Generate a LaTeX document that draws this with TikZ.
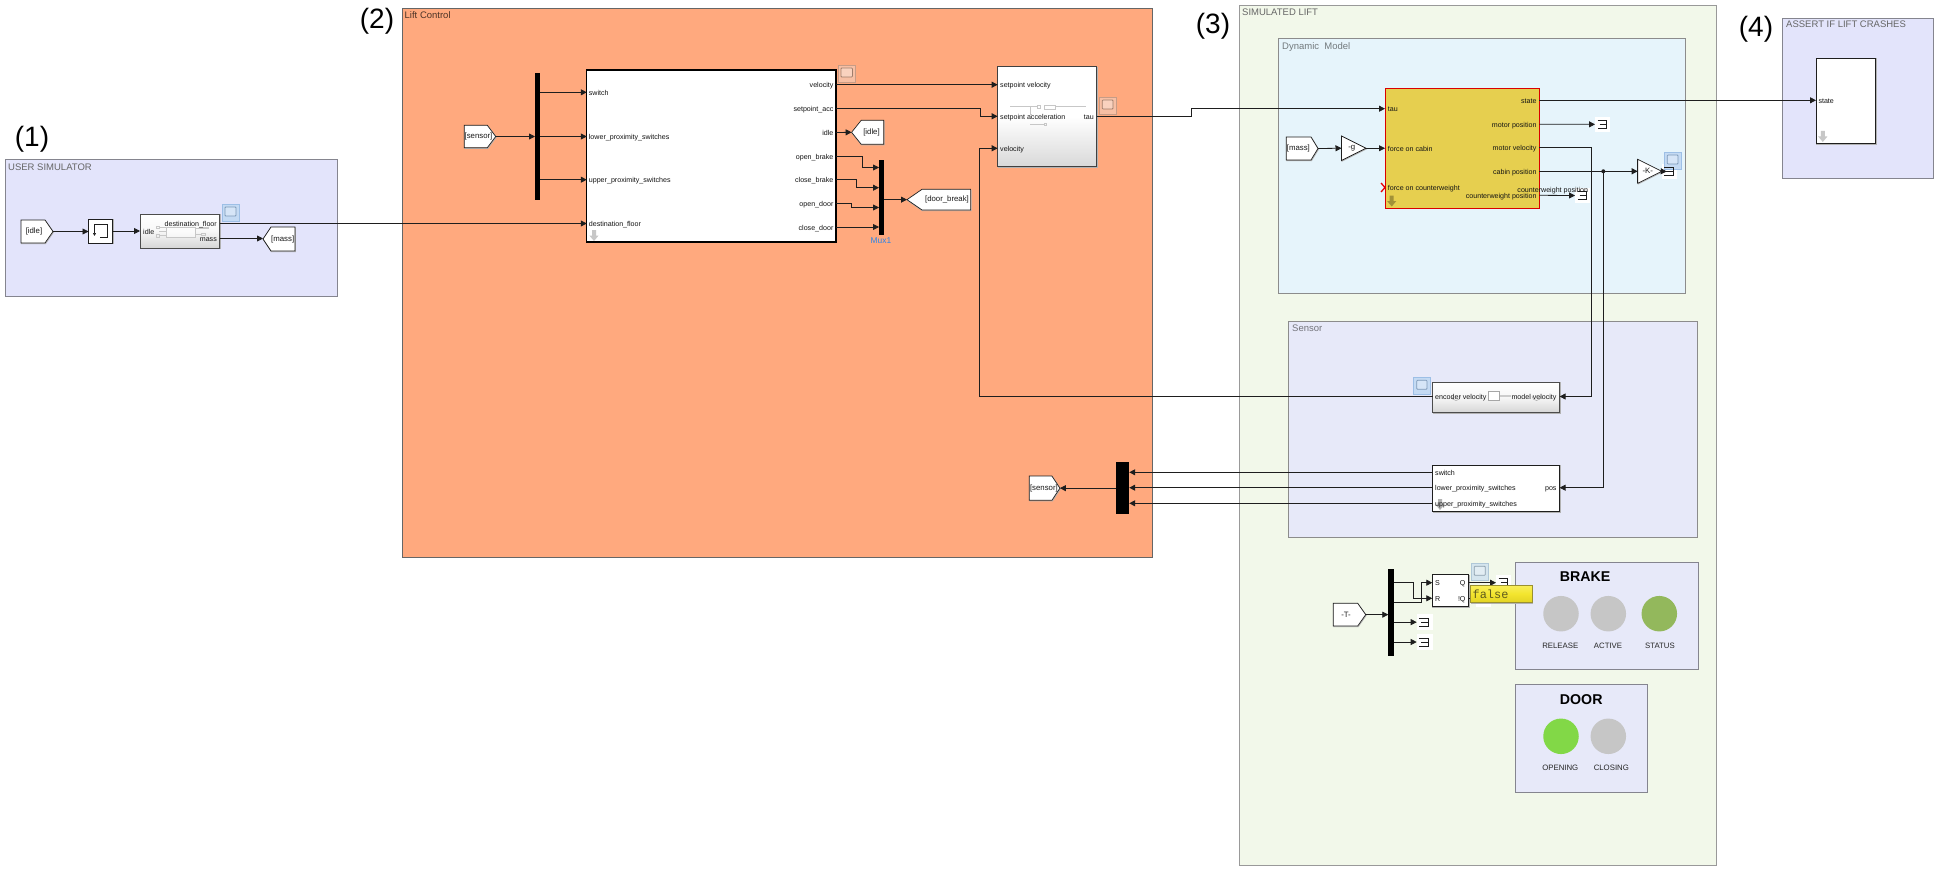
\documentclass[tikz,border=0pt]{standalone}
\usepackage{fontspec}
\setmainfont{Liberation Sans}
\newfontfamily\tipfont{Liberation Mono}
\usetikzlibrary{arrows.meta,calc}
\definecolor{cUser}{HTML}{E3E4FB}
\definecolor{cLift}{HTML}{FFA97E}
\definecolor{cSim}{HTML}{F2F8EA}
\definecolor{cDyn}{HTML}{E6F4FB}
\definecolor{cSens}{HTML}{E7E9F9}
\definecolor{cYel}{HTML}{E6CF4F}
\definecolor{cEdge}{HTML}{1E1E1E}
\definecolor{cPanel}{HTML}{85858F}
\definecolor{cGrayLamp}{HTML}{C6C6C6}
\definecolor{cScF}{HTML}{C4DAF3}
\definecolor{cScD}{HTML}{9DBFE6}
\definecolor{cScOF}{HTML}{F7BFA4}
\definecolor{cScOD}{HTML}{C79C86}
\definecolor{cScPF}{HTML}{D5E5EE}
\definecolor{cScPD}{HTML}{B0C8D8}
\definecolor{cTipT}{HTML}{F8EE5A}
\definecolor{cTipM}{HTML}{F3E52E}
\definecolor{cTipB}{HTML}{E2D324}
\definecolor{cTipD}{HTML}{9A9030}
\definecolor{cTipX}{HTML}{5E5A1E}
\definecolor{cMux}{HTML}{2E86E6}
\tikzset{
  x=1pt,y=-1pt,
  panel/.style={draw=cPanel,line width=1pt},
  shadowed/.style={preaction={draw=black!30,line width=0.9pt,transform canvas={shift={(0.5pt,-0.7pt)}}}},
  blk/.style={draw=cEdge,line width=0.7pt,fill=white,shadowed},
  gradblk/.style={draw=black!70,line width=0.8pt,shadowed,top color=white,bottom color=black!16,middle color=black!3},
  wire/.style={draw=cEdge,line width=0.8pt,-{Triangle[length=6pt,width=6pt]}},
  txt/.style={font=\fontsize{7.1}{8}\selectfont,inner sep=0pt,text height=7.1pt,text depth=1pt,text=black!92},
  tagt/.style={font=\fontsize{7.8}{9}\selectfont,inner sep=0pt,text=black!90},
  ptitle/.style={font=\fontsize{9.5}{11}\selectfont,inner sep=0pt,anchor=west},
  numt/.style={font=\fontsize{28}{30}\selectfont,inner sep=0pt,text=black},
  lampt/.style={font=\fontsize{7.8}{9}\selectfont,inner sep=0pt,text=black!85},
  lamptitle/.style={font=\bfseries\fontsize{14.2}{16}\selectfont,inner sep=0pt,anchor=west},
  faint/.style={draw=black!22,line width=0.5pt},
  bar/.style={fill=black},
  lamp/.style={circle,inner sep=0pt,minimum size=35.5pt},
  termsym/.style={line width=0.6pt,draw=cEdge},
}
\newcommand{\bx}[6][]{%
  \pgfmathsetmacro\rsW{#5-#3}\pgfmathsetmacro\rsH{#6-#4}%
  \pgfmathsetmacro\rsX{(#3+#5)/2}\pgfmathsetmacro\rsY{(#4+#6)/2}%
  \node[minimum width=\rsW pt,minimum height=\rsH pt,inner sep=0pt,outer sep=0pt,#1] (#2) at (\rsX,\rsY) {};}
\newcommand{\lblL}[4]{\node[txt,anchor=west] (#1) at (#2,#3) {#4};}
\newcommand{\lblR}[4]{\node[txt,anchor=east] (#1) at (#2,#3) {#4};}
\newcommand{\tagR}[9]{\bx{#1}{#2}{#3}{#4}{#5}%
  \draw[blk] (#1.north west) -- ($(#1.north east)+(-#6,0)$) -- (#1.east) -- ($(#1.south east)+(-#6,0)$) -- (#1.south west) -- cycle;
  \node[tagt] (#1-t) at (#8,#9) {#7};}
\newcommand{\tagL}[9]{\bx{#1}{#2}{#3}{#4}{#5}%
  \draw[blk] (#1.north east) -- ($(#1.north west)+(#6,0)$) -- (#1.west) -- ($(#1.south west)+(#6,0)$) -- (#1.south east) -- cycle;
  \node[tagt] (#1-t) at (#8,#9) {#7};}
\newcommand{\tri}[6]{\bx{#1}{#2}{#3}{#4}{#5}%
  \draw[blk] (#1.north west) -- (#1.east) -- (#1.south west) -- cycle;
  \node[tagt] (#1-t) at ($(#1.center)+(-2,0)$) {#6};}
\newcommand{\termsymbol}[1]{%
  \draw[termsym] ($(#1.west)+(2.5,-4.2)$) -- ($(#1.west)+(11.5,-4.2)$) -- ($(#1.west)+(11.5,4.2)$) -- ($(#1.west)+(2.5,4.2)$)
     ($(#1.west)+(4.5,0)$) -- ($(#1.west)+(11.5,0)$);}
\newcommand{\term}[5]{\bx[fill=white]{#1}{#2}{#3}{#4}{#5}\termsymbol{#1}}
\newcommand{\scopeic}[7]{\bx[fill=#6,draw=#7,line width=0.8pt]{#1}{#2}{#3}{#4}{#5}%
  \draw[draw=#7!80!black,line width=0.8pt,fill=#6!70!white,rounded corners=0.8pt] ($(#1.north west)+(3,3)$) rectangle ($(#1.north east)+(-3,12)$);}
\newcommand{\downar}[4]{%
  \node[inner sep=0pt,minimum size=1pt] (#1) at (#2,#3) {};
  \fill[#4] ($(#1)+(-2,0)$) -- ($(#1)+(2,0)$) -- ($(#1)+(2,5.5)$) -- ($(#1)+(4.6,5.5)$) -- ($(#1)+(0,11)$) -- ($(#1)+(-4.6,5.5)$) -- ($(#1)+(-2,5.5)$) -- cycle;}
\begin{document}
\begin{tikzpicture}
\useasboundingbox (0,0) rectangle (1944,872);
\fill[white] (0,0) rectangle (1944,872);
% ---- panels
\bx[panel,fill=cUser]{pUser}{5}{160}{337}{296.5}
\bx[panel,draw=black!60,fill=cLift]{pLift}{402}{8.5}{1152.6}{557.3}
\bx[panel,draw=black!40,fill=cSim]{pSim}{1239}{5.7}{1716.4}{865.7}
\bx[panel,draw=black!45,fill=cDyn]{pDyn}{1278.6}{39}{1685.4}{293.3}
\bx[panel,draw=black!45,fill=cSens]{pSens}{1288.7}{321.5}{1697.8}{537}
\bx[panel,fill=cUser]{pAss}{1782.4}{18.3}{1933.3}{178.3}
\bx[panel,fill=cSens]{pBrake}{1515.7}{562.7}{1698.3}{669.7}
\bx[panel,fill=cSens]{pDoor}{1515.7}{684.7}{1647}{792.7}
\node[numt] (n1) at (32,139) {(1)};
\node[numt] (n2) at (377,21) {(2)};
\node[numt] (n3) at (1213,26) {(3)};
\node[numt] (n4) at (1756,29) {(4)};
\node[ptitle,text=black!60] (t1) at (8,167) {USER SIMULATOR};
\node[ptitle,text=black!70!cLift] (t2) at (404.5,15) {Lift Control};
\node[ptitle,text=black!60] (t3) at (1242,12.2) {SIMULATED LIFT};
\node[ptitle,text=black!50!cDyn] (t4) at (1282,46.8) {Dynamic\ \ Model};
\node[ptitle,text=black!50!cSens] (t5) at (1292,328) {Sensor};
\node[ptitle,text=black!60] (t6) at (1786,24.5) {ASSERT IF LIFT CRASHES};
% ---- blocks
\tagR{gIdle}{21}{220}{53}{243}{8}{[idle]}{34}{231.5}
\bx[blk]{delay}{88.5}{219}{112.5}{243}
\bx[gradblk]{chart}{140}{214}{219.5}{248}
\tagL{gMass}{263}{227}{295}{251}{8}{[mass]}{282.7}{239}
\tagR{fSens}{464.3}{125.3}{495.7}{147.7}{8.4}{[sensor]}{478.5}{136.5}
\bx[bar]{muxA}{535}{72.7}{540}{200}
\bx[draw=black,line width=1.2pt,fill=white]{big}{586.8}{70}{835.9}{242}
\tagL{gIdleB}{851.6}{120.3}{883.7}{144.3}{9.6}{[idle]}{871.5}{132.5}
\bx[bar]{muxB}{879}{160}{884}{235}
\tagL{gDoor}{907}{189.3}{970.6}{210}{15}{[door\_break]}{947}{199.5}
\bx[draw=black!75,line width=0.9pt,shadowed,top color=white,bottom color=black!15,middle color=white]{setp}{997.7}{66.7}{1096.7}{166.3}
\tagR{fMass}{1286.3}{137}{1318}{160}{7}{[mass]}{1298.4}{148.3}
\tri{gainG}{1341.5}{136}{1366}{160.5}{-g}
\bx[draw=red!85!black,line width=0.9pt,fill=cYel]{yel}{1385}{88.3}{1539.3}{208.3}
\term{tMot}{1595}{116.7}{1610}{132}
\term{tCw}{1575}{188}{1590}{203}
\tri{gainK}{1637.7}{159.3}{1661.7}{183.3}{-K-}
\draw[cEdge,line width=1.4pt] (gainK.north west) -- (gainK.south west);
\bx[blk]{assert}{1816}{58}{1875.8}{143.7}
\bx[gradblk]{enc}{1432.6}{382}{1559.6}{412.3}
\bx[blk]{spos}{1432.6}{465}{1559.6}{511.3}
\bx[bar]{muxC}{1116}{462.3}{1129.2}{513.7}
\tagR{fSensB}{1029.3}{476}{1059.9}{500.3}{8}{[sensor]}{1043.9}{488}
\tagR{fT}{1333.3}{603.3}{1365.7}{626}{8}{-T-}{1346}{614.5}
\bx[bar]{muxD}{1388.3}{569}{1393.7}{656}
\bx[blk]{sr}{1432.3}{574.7}{1468.7}{606.7}
\term{tQ}{1496}{575}{1511}{590.4}
\term{tNQ}{1476}{591}{1491}{606.6}
\term{tD1}{1416.7}{614.3}{1432.7}{630}
\term{tD3}{1416.7}{634}{1432.7}{650}
\bx[fill=white]{tKs}{1661.7}{164}{1677}{179}
% ---- block details
\draw[cEdge,line width=0.7pt] (107.7,237.3) -- (100,237.3);
\draw[cEdge,line width=0.7pt,-{Triangle[length=3pt,width=3pt]}] (107.7,237.3) -- (107.7,224.3) -- (94.5,224.3) -- (94.5,236);
\draw[faint,fill=white,fill opacity=0.5] (166.7,227.3) rectangle (195.7,237.3);
\draw[faint] (156.5,226.5) rectangle (159,228.5) (156.5,234) rectangle (159,237.5) (159,227.5) -- (166.7,227.5) (159,231) -- (166.7,231) (159,235.5) -- (166.7,235.5) (195.7,228) -- (199,228) (195.7,234.5) -- (201,234.5) (199,227) rectangle (208,228.5) (201,233.5) rectangle (205,235.5);
\draw[faint] (1010,106.7) -- (1037,106.7) (1055,106.7) -- (1086,106.7) (1044,105) rectangle (1055,109) (1037,105.5) rectangle (1040,108) (1030,106.7) -- (1030,114) (1030,114) -- (1032,114) (1030,124.5) -- (1044,124.5) (1044,123.5) rectangle (1046,125.5);
\bx[fill=white,draw=black!35,line width=0.5pt]{encsq}{1487.9}{391.3}{1499.5}{400.7}
\draw[black!20,line width=1.5pt] (encsq.east) -- (1511,396);
\draw[black!35,line width=0.5pt] (1451.5,396) arc[start angle=180,end angle=0,radius=4.5] (1532,396) arc[start angle=180,end angle=0,radius=4.5];
\downar{dBig}{594}{230}{black!22}
\downar{dYel}{1391.7}{195.5}{black!30!cYel}
\downar{dAss}{1822.8}{131}{black!22}
\downar{dSpos}{1440}{499}{black!30}
\draw[red!90!black,line width=1.3pt] (1381,183) -- (1385,187.5) -- (1381,192);
% ---- labels in blocks
\lblL{cIdle}{143}{231}{idle}
\lblR{cDest}{217}{223}{destination\_floor}
\lblR{cMass}{217}{238.5}{mass}
\lblL{bSw}{588.7}{92.3}{switch}
\lblL{bLo}{588.7}{136.5}{lower\_proximity\_switches}
\lblL{bUp}{588.7}{179.7}{upper\_proximity\_switches}
\lblL{bDe}{588.7}{223.5}{destination\_floor}
\lblR{bVe}{833.6}{84.7}{velocity}
\lblR{bAc}{833.6}{108.5}{setpoint\_acc}
\lblR{bId}{833.6}{132.5}{idle}
\lblR{bOb}{833.6}{156}{open\_brake}
\lblR{bCb}{833.6}{179.5}{close\_brake}
\lblR{bOd}{833.6}{203.5}{open\_door}
\lblR{bCd}{833.6}{227}{close\_door}
\node[font=\fontsize{8.4}{9}\selectfont,inner sep=0pt,text=cMux] (muxLbl) at (881,241) {Mux1};
\lblL{sVe}{1000}{84.7}{setpoint velocity}
\lblL{sAc}{1000}{116.3}{setpoint acceleration}
\lblL{sV}{1000}{148.3}{velocity}
\lblR{sTa}{1094}{116.3}{tau}
\lblL{yTa}{1387.7}{108.7}{tau}
\lblL{yFc}{1387.7}{148.3}{force on cabin}
\lblL{yFw}{1387.7}{187.5}{force on counterweight}
\lblR{ySt}{1536.7}{100.3}{state}
\lblR{yMp}{1536.7}{124.3}{motor position}
\lblR{yMv}{1536.7}{147.3}{motor velocity}
\lblR{yCp}{1536.7}{171.3}{cabin position}
\lblR{yCw}{1536.7}{195.3}{counterweight position}
\node[txt,anchor=center] (cwOver) at (1552.8,189.7) {counterweight position};
\lblL{aSt}{1818.3}{100.3}{state}
\lblL{eEn}{1435}{396.5}{encoder velocity}
\lblR{eMo}{1556.7}{396.5}{model velocity}
\lblL{pSw}{1435}{472.3}{switch}
\lblL{pLo}{1435}{487.7}{lower\_proximity\_switches}
\lblL{pUp}{1435}{503.3}{upper\_proximity\_switches}
\lblR{pPo}{1556.7}{487.7}{pos}
\lblL{rS}{1435}{582.7}{S}
\lblL{rR}{1435}{598.3}{R}
\lblR{rQ}{1465.7}{582.7}{Q}
\lblR{rN}{1465.7}{598.3}{!Q}
% ---- wires
\draw[wire] (gIdle.east) -- (delay.west |- gIdle.east);
\draw[wire] (delay.east) -- (chart.west |- delay.east);
\draw[wire] (chart.east |- bDe) -- (big.west |- bDe);
\draw[wire] (chart.east |- cMass) -- (gMass.west |- cMass);
\draw[wire] (fSens.east) -- (muxA.west |- fSens.east);
\draw[wire] (muxA.east |- bSw) -- (big.west |- bSw);
\draw[wire] (muxA.east |- bLo) -- (big.west |- bLo);
\draw[wire] (muxA.east |- bUp) -- (big.west |- bUp);
\draw[wire] (big.east |- bVe) -- (setp.west |- sVe);
\coordinate (acB) at (980.3,116.3);
\draw[wire] (big.east |- bAc) -| (acB) -- (setp.west |- sAc);
\draw[wire] (big.east |- bId) -- (gIdleB.west);
\coordinate (b1) at (862.3,167.5); \coordinate (b2) at (856.2,187.7); \coordinate (b3) at (851.6,207.5);
\draw[wire] (big.east |- bOb) -| (b1) -- (muxB.west |- b1);
\draw[wire] (big.east |- bCb) -| (b2) -- (muxB.west |- b2);
\draw[wire] (big.east |- bOd) -| (b3) -- (muxB.west |- b3);
\draw[wire] (big.east |- bCd) -- (muxB.west |- bCd);
\draw[wire] (muxB.east |- gDoor.west) -- (gDoor.west);
\coordinate (veB) at (979.4,396.5); \coordinate (veT) at (979.4,148.3);
\draw[wire] (enc.west |- eEn) -- (veB) -- (veT) -- (setp.west |- sV);
\coordinate (taB) at (1191.3,108.7);
\draw[wire] (setp.east |- sTa) -| (taB) -- (yel.west |- yTa);
\draw[wire] (fMass.east) -- (gainG.west);
\draw[wire] (gainG.east) -- (yel.west |- gainG.east);
\draw[wire] (yel.east |- ySt) -- (assert.west |- aSt);
\draw[wire] (yel.east |- yMp) -- (tMot.west);
\draw[wire] (yel.east |- yCw) -- (tCw.west);
\coordinate (mvB) at (1591.3,396.5);
\draw[wire] (yel.east |- yMv) -| (mvB) -- (enc.east |- eMo);
\draw[wire] (yel.east |- yCp) -- (gainK.west);
\node[circle,fill=cEdge,inner sep=0pt,minimum size=4pt] (junc) at (1603.3,171.3) {};
\coordinate (poB) at (1603.3,487.7);
\draw[wire] (junc.center) -- (poB) -- (spos.east |- pPo);
\draw[wire] (spos.west |- pSw) -- (muxC.east |- pSw);
\draw[wire] (spos.west |- pLo) -- (muxC.east |- pLo);
\draw[wire] (spos.west |- pUp) -- (muxC.east |- pUp);
\draw[wire] (muxC.west |- fSensB.east) -- (fSensB.east);
\draw[wire] (fT.east) -- (muxD.west |- fT.east);
\coordinate (sA) at (1413.3,582.3); \coordinate (sB) at (1413.3,598.3);
\coordinate (sC) at (1421.7,602.3); \coordinate (sD) at (1421.7,582.7);
\draw[wire] (muxD.east |- sA) -- (sA) -- (sB) -- (sr.west |- rR);
\draw[wire] (muxD.east |- sC) -- (sC) -- (sD) -- (sr.west |- rS);
\draw[wire] (muxD.east |- tD1.west) -- (tD1.west);
\draw[wire] (muxD.east |- tD3.west) -- (tD3.west);
\draw[wire] (sr.east |- rQ) -- (tQ.west |- rQ);
\draw[wire] (sr.east |- rN) -- (tNQ.west |- rN);
% ---- scope icons
\scopeic{sc1}{222}{204}{239}{221}{cScF}{cScD}
\scopeic{sc2}{838}{65}{855.4}{82}{cScOF}{cScOD}
\scopeic{sc3}{1099.3}{97}{1116}{114}{cScOF}{cScOD}
\scopeic{sc4}{1664.3}{152}{1681}{169}{cScF}{cScD}
\scopeic{sc5}{1413.7}{377.3}{1430}{394}{cScF}{cScD}
\scopeic{sc6}{1471.3}{563.3}{1488.3}{580}{cScPF}{cScPD}
\termsymbol{tKs}
\draw[wire] (gainK.east) -- ($(tKs.west)+(5,0)$);
% ---- lamps
\node[lamptitle] (lBr) at (1559.7,576.7) {BRAKE};
\node[lamp,fill=cGrayLamp] (l1) at (1561,613.7) {};
\node[lamp,fill=cGrayLamp] (l2) at (1608.3,613.7) {};
\node[lamp,fill={rgb,255:red,147;green,184;blue,92}] (l3) at (1659.3,613.7) {};
\node[lampt] (lt1) at (1560.3,646) {RELEASE};
\node[lampt] (lt2) at (1608,646) {ACTIVE};
\node[lampt] (lt3) at (1660,646) {STATUS};
\node[lamptitle] (lDo) at (1559.7,699.7) {DOOR};
\node[lamp,fill={rgb,255:red,130;green,216;blue,71}] (l4) at (1561,736.3) {};
\node[lamp,fill=cGrayLamp] (l5) at (1608.3,736.3) {};
\node[lampt] (lt4) at (1560.3,768) {OPENING};
\node[lampt] (lt5) at (1611.3,768) {CLOSING};
% ---- tooltip
\bx[draw=cTipD,line width=0.7pt,shadowed,top color=cTipT,bottom color=cTipB,middle color=cTipM]{tip}{1470.7}{585.3}{1532.3}{602.3}
\node[font=\tipfont\fontsize{11.9}{13}\selectfont,inner sep=0pt,anchor=west,text=cTipX] (tipT) at (1472.5,594) {false};
\end{tikzpicture}
\end{document}
